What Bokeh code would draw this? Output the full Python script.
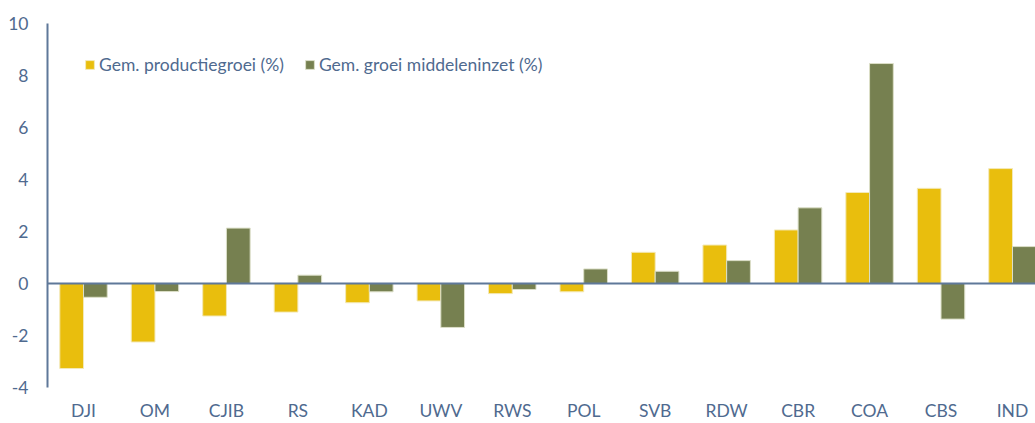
from bokeh.plotting import figure
from bokeh.models import Span, FixedTicker, Legend, LegendItem, ColumnDataSource, Range1d
from bokeh.transform import dodge
from bokeh.embed import file_html
from bokeh.resources import INLINE

categories = ["DJI", "OM", "CJIB", "RS", "KAD", "UWV", "RWS", "POL", "SVB", "RDW", "CBR", "COA", "CBS", "IND"]
productiegroei = [-3.27, -2.25, -1.25, -1.10, -0.74, -0.67, -0.39, -0.32, 1.20, 1.48, 2.06, 3.50, 3.66, 4.42]
middeleninzet = [-0.53, -0.31, 2.13, 0.32, -0.32, -1.69, -0.23, 0.56, 0.47, 0.88, 2.91, 8.46, -1.37, 1.42]
y_ticks = [-4, -2, 0, 2, 4, 6, 8, 10]
series_labels = ["Gem. productiegroei (%)", "Gem. groei middeleninzet (%)"]

FONT = "Lato"
FS = "17.5px"
TEXT = "#4f6a8f"
AXIS = "#5f7899"
YELLOW = "#e9be0d"
GREEN = "#768050"

src = ColumnDataSource(dict(idx=list(range(len(categories))), prod=productiegroei, mid=middeleninzet))

p = figure(width=1035, height=423, output_backend="svg", toolbar_location=None,
           x_range=Range1d(-0.504, 13.322), y_range=Range1d(-4, 10),
           min_border_left=47, min_border_right=0, min_border_top=23, min_border_bottom=33)
p.outline_line_color = None
p.grid.grid_line_color = None
p.background_fill_color = "white"

r1 = p.vbar(x=dodge("idx", -0.166, range=p.x_range), top="prod", bottom=0, width=0.332, source=src,
            fill_color=YELLOW, line_color="#f3e9b8", line_width=1)
r2 = p.vbar(x=dodge("idx", 0.166, range=p.x_range), top="mid", bottom=0, width=0.332, source=src,
            fill_color=GREEN, line_color="#dcdfc8", line_width=1)

p.add_layout(Span(location=0, dimension="width", line_color=AXIS, line_width=2))

ya = p.yaxis[0]
ya.ticker = FixedTicker(ticks=y_ticks)
ya.major_label_overrides = {t: str(t) for t in y_ticks}
ya.axis_line_color = AXIS
ya.axis_line_width = 2
ya.major_tick_line_color = None
ya.minor_tick_line_color = None
ya.major_tick_out = 0
ya.major_tick_in = 0
ya.minor_tick_out = 0
ya.major_label_standoff = 19
ya.major_label_text_font = FONT
ya.major_label_text_font_size = FS
ya.major_label_text_color = TEXT

xa = p.xaxis[0]
xa.ticker = FixedTicker(ticks=list(range(len(categories))))
xa.major_label_overrides = {i: c for i, c in enumerate(categories)}
xa.axis_line_color = None
xa.major_tick_line_color = None
xa.minor_tick_line_color = None
xa.major_tick_out = 0
xa.major_tick_in = 0
xa.minor_tick_out = 0
xa.major_label_standoff = 12
xa.major_label_text_font = FONT
xa.major_label_text_font_size = FS
xa.major_label_text_color = TEXT

legend = Legend(items=[LegendItem(label=series_labels[0], renderers=[r1]),
                       LegendItem(label=series_labels[1], renderers=[r2])],
                location=(37, 312), orientation="horizontal", padding=0, margin=0, spacing=20,
                label_standoff=4, glyph_width=11, glyph_height=11,
                label_text_font=FONT, label_text_font_size=FS, label_text_color=TEXT,
                background_fill_alpha=0, border_line_alpha=0)
p.add_layout(legend)

open("out.html", "w").write(file_html(p, INLINE))
